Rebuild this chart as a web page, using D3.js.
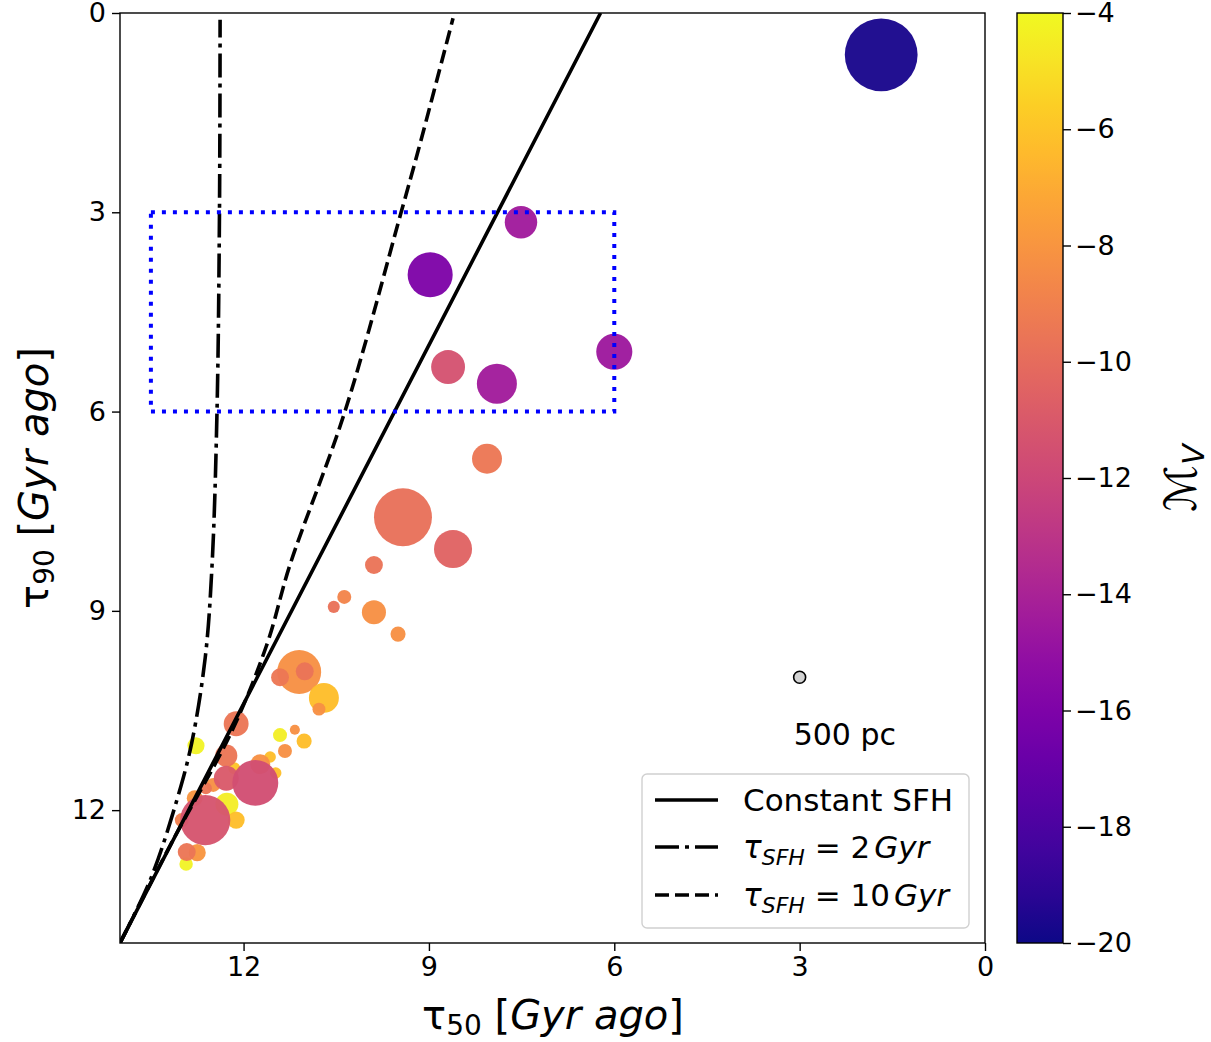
<!DOCTYPE html>
<html>
<head>
<meta charset="utf-8">
<script src="https://cdn.jsdelivr.net/npm/d3@7"></script>
<style>
  html, body { margin: 0; padding: 0; background: #fff; }
  svg { display: block; font-family: "DejaVu Sans", sans-serif; }
</style>
</head>
<body>
<svg id="chart" width="1211" height="1042"></svg>
<script>
// ---------------- DATA ----------------
const tau50 = [1.68, 7.51, 8.98, 6.00, 8.69, 7.90, 8.06, 9.42, 8.61, 9.89, 10.37, 10.54, 9.89, 9.50,
  11.10, 11.01, 11.41, 10.70, 10.78, 12.12, 12.77, 11.41, 11.17, 11.02, 11.33, 12.15, 12.28, 11.57,
  11.73, 11.48, 12.49, 12.61, 12.28, 11.81, 12.79, 12.27, 12.12, 13.00, 12.62, 12.93, 12.75, 12.92];
const tau90 = [0.63, 3.15, 3.94, 5.10, 5.33, 5.58, 6.71, 7.59, 8.07, 8.31, 8.79, 8.94, 9.02, 9.35,
  9.92, 9.91, 10.00, 10.31, 10.48, 10.70, 11.03, 10.87, 10.79, 10.96, 11.11, 11.37, 11.18, 11.20,
  11.31, 11.44, 11.62, 11.67, 11.52, 11.59, 11.82, 11.91, 12.15, 12.15, 12.15, 12.81, 12.64, 12.63];
const MV = [-19.7, -14.5, -16.0, -14.6, -11.4, -14.4, -9.4, -9.8, -10.5, -9.6, -8.8, -9.7, -8.2, -8.2,
  -8.2, -9.6, -9.4, -6.3, -8.2, -9.5, -4.2, -4.4, -8.2, -6.3, -8.2, -6.0, -9.5, -6.3,
  -8.2, -6.2, -8.2, -9.5, -11.0, -11.6, -8.0, -4.5, -6.3, -9.0, -11.3, -4.2, -8.0, -9.5];
const rhalf = [2600, 1160, 1610, 1290, 1210, 1430, 1070, 2070, 1360, 640, 500, 430, 860, 540,
  1570, 640, 640, 1070, 460, 890, 610, 500, 360, 540, 500, 430, 790, 410,
  710, 410, 500, 430, 890, 1640, 570, 820, 610, 500, 1790, 480, 610, 640];

// model tracks: [tau50, tau90]
const constSFH = [[14, 14], [7, 1.4], [6.222, 0]];
const sfh2 = [[14, 14], [13.51, 13.05], [13.08, 11.85], [12.84, 10.99],
  [12.62, 9.7], [12.51, 8.31], [12.43, 6.0], [12.39, 3.0], [12.38, 0.1]];
const sfh10 = [[14, 14], [13.17, 12.5], [12.19, 10.81], [11.62, 9.5], [11.25, 8.31], [10.36, 6.0],
  [9.45, 3.0], [9.17, 2.06], [8.61, 0.08]];
const boxX = [13.5, 6.0];
const boxY = [3, 6];

const xTicks = [12, 9, 6, 3, 0];
const yTicks = [0, 3, 6, 9, 12];
const cbTicks = [-4, -6, -8, -10, -12, -14, -16, -18, -20];
const legendLabels = ["Constant SFH", "2", "10"];
const refSize = 500;

// ---------------- LAYOUT ----------------
const svg = d3.select("#chart");
const L = 120, R = 985, T = 13, B = 943;
const x = d3.scaleLinear().domain([14, 0]).range([L, R]);
const y = d3.scaleLinear().domain([0, 14]).range([T, B]);
const color = d3.scaleSequential(d3.interpolatePlasma).domain([-20, -4]);
const rad = d3.scaleLinear().domain([0, 500]).range([0, 7]);
const DD = "24,6,4,6", DS = "14,6";

svg.append("defs").append("clipPath").attr("id", "clip")
  .append("rect").attr("x", L).attr("y", T).attr("width", R - L).attr("height", B - T);

const plot = svg.append("g").attr("clip-path", "url(#clip)");

// points
const pts = tau50.map((d, i) => ({ t50: d, t90: tau90[i], mv: MV[i], rh: rhalf[i] }));
plot.selectAll("circle.pt").data(pts).join("circle")
  .attr("class", "pt")
  .attr("cx", d => x(d.t50)).attr("cy", d => y(d.t90))
  .attr("r", d => rad(d.rh))
  .attr("fill", d => color(d.mv))
  .attr("fill-opacity", 0.96);

// lines
const line = d3.line().x(d => x(d[0])).y(d => y(d[1]));
const curve = d3.line().x(d => x(d[0])).y(d => y(d[1])).curve(d3.curveCatmullRom.alpha(0.5));
plot.append("path").datum(constSFH).attr("d", line)
  .attr("fill", "none").attr("stroke", "#000").attr("stroke-width", 3.6);
plot.append("path").datum(sfh2).attr("d", curve)
  .attr("fill", "none").attr("stroke", "#000").attr("stroke-width", 3.6)
  .attr("stroke-dasharray", DD);
plot.append("path").datum(sfh10).attr("d", curve)
  .attr("fill", "none").attr("stroke", "#000").attr("stroke-width", 3.6)
  .attr("stroke-dasharray", DS);

// blue dotted box
plot.append("rect")
  .attr("x", x(boxX[0])).attr("y", y(boxY[0]))
  .attr("width", x(boxX[1]) - x(boxX[0])).attr("height", y(boxY[1]) - y(boxY[0]))
  .attr("fill", "none").attr("stroke", "#0000ff").attr("stroke-width", 4)
  .attr("stroke-dasharray", "4,7");

// reference size marker
svg.append("circle").attr("cx", x(3)).attr("cy", y(10))
  .attr("r", rad(refSize) - 1).attr("fill", "#d3d3d3").attr("stroke", "#000").attr("stroke-width", 1.6);
svg.append("text").attr("x", x(3) - 6).attr("y", 745).attr("font-size", 30).text(refSize + " pc");

// frame
svg.append("rect").attr("x", L).attr("y", T).attr("width", R - L).attr("height", B - T)
  .attr("fill", "none").attr("stroke", "#000").attr("stroke-width", 1.4);

// axes
const xAxis = svg.append("g").attr("transform", `translate(0,${B})`)
  .call(d3.axisBottom(x).tickValues(xTicks).tickFormat(d3.format("d")).tickSize(8).tickPadding(6));
const yAxis = svg.append("g").attr("transform", `translate(${L},0)`)
  .call(d3.axisLeft(y).tickValues(yTicks).tickFormat(d3.format("d")).tickSize(8).tickPadding(6));
[xAxis, yAxis].forEach(a => {
  a.select(".domain").remove();
  a.selectAll("line").attr("stroke", "#000").attr("stroke-width", 1.4);
  a.selectAll("text").attr("font-size", 27).attr("fill", "#000").attr("font-family", "DejaVu Sans");
});

// axis labels
const xl = svg.append("text").attr("x", 553).attr("y", 1029).attr("text-anchor", "middle").attr("font-size", 40);
xl.append("tspan").text("τ");
xl.append("tspan").attr("font-size", 28).attr("dy", 6).text("50");
xl.append("tspan").attr("dy", -6).text(" [");
xl.append("tspan").attr("font-style", "italic").text("Gyr ago");
xl.append("tspan").text("]");

const yl = svg.append("text").attr("transform", "translate(48,478) rotate(-90)")
  .attr("text-anchor", "middle").attr("font-size", 40);
yl.append("tspan").text("τ");
yl.append("tspan").attr("font-size", 28).attr("dy", 6).text("90");
yl.append("tspan").attr("dy", -6).text(" [");
yl.append("tspan").attr("font-style", "italic").text("Gyr ago");
yl.append("tspan").text("]");

// legend
const lg = svg.append("g");
lg.append("rect").attr("x", 642).attr("y", 774).attr("width", 327).attr("height", 154)
  .attr("rx", 5).attr("fill", "#fff").attr("fill-opacity", 0.8).attr("stroke", "#d0d0d0").attr("stroke-width", 1.4);
const dashes = [null, DD, DS];
const ly = [800, 847, 895];
dashes.forEach((ds, i) => {
  const p = lg.append("line").attr("x1", 655).attr("x2", 718).attr("y1", ly[i]).attr("y2", ly[i])
    .attr("stroke", "#000").attr("stroke-width", 3.6);
  if (ds) p.attr("stroke-dasharray", ds);
});
lg.append("text").attr("x", 743).attr("y", ly[0] + 11).attr("font-size", 31).text(legendLabels[0]);
[1, 2].forEach(i => {
  const t = lg.append("text").attr("x", 743).attr("y", ly[i] + 11).attr("font-size", 31);
  t.append("tspan").attr("font-style", "italic").text("τ");
  t.append("tspan").attr("font-style", "italic").attr("font-size", 22).attr("dy", 7).text("SFH");
  t.append("tspan").attr("dy", -7).text(" = " + legendLabels[i]);
  t.append("tspan").attr("dx", 4).attr("font-style", "italic").text("Gyr");
});

// colorbar
const cbL = 1017, cbW = 46;
const cy = d3.scaleLinear().domain([-20, -4]).range([B, T]);
const grad = svg.select("defs").append("linearGradient").attr("id", "cbgrad")
  .attr("x1", 0).attr("y1", 1).attr("x2", 0).attr("y2", 0);
d3.range(0, 1.0001, 0.05).forEach(t => {
  grad.append("stop").attr("offset", t).attr("stop-color", d3.interpolatePlasma(t));
});
svg.append("rect").attr("x", cbL).attr("y", T).attr("width", cbW).attr("height", B - T)
  .attr("fill", "url(#cbgrad)").attr("stroke", "#000").attr("stroke-width", 1.4);
const cbAxis = svg.append("g").attr("transform", `translate(${cbL + cbW},0)`)
  .call(d3.axisRight(cy).tickValues(cbTicks).tickFormat(d => "−" + Math.abs(d)).tickSize(8).tickPadding(4));
cbAxis.select(".domain").remove();
cbAxis.selectAll("line").attr("stroke", "#000").attr("stroke-width", 1.4);
cbAxis.selectAll("text").attr("font-size", 27).attr("fill", "#000").attr("font-family", "DejaVu Sans");

const cl = svg.append("text").attr("transform", "translate(1196,478) rotate(-90)")
  .attr("text-anchor", "middle").attr("font-size", 44);
cl.append("tspan").attr("font-style", "italic").text("ℳ");
cl.append("tspan").attr("font-style", "italic").attr("font-size", 30).attr("dy", 8).text("V");
</script>
</body>
</html>
